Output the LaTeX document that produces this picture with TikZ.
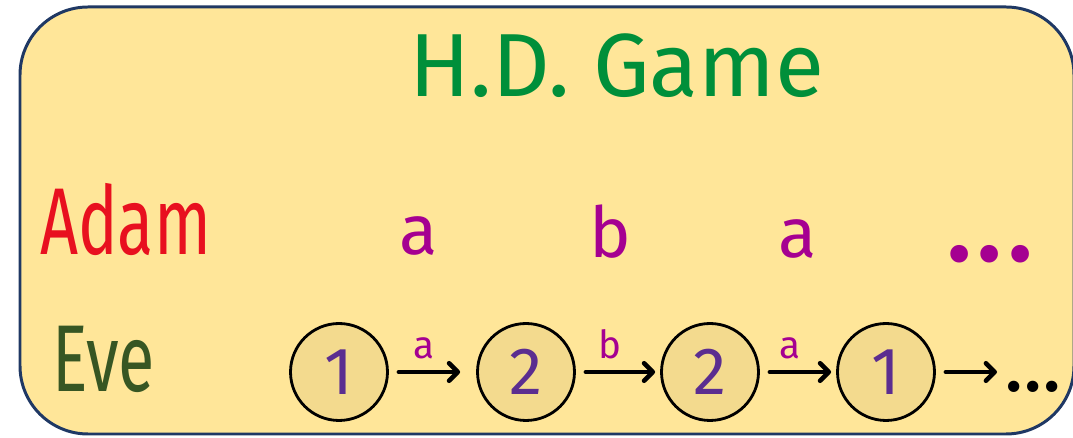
\documentclass[tikz,border=0pt]{standalone}
\usepackage{fontspec}
\setmainfont{Fira Sans}
\newfontfamily\narrowhand[FakeStretch=0.7]{Fira Sans}
\usetikzlibrary{arrows.meta}
\definecolor{gameYellow}{HTML}{FFE699}
\definecolor{gameBorder}{HTML}{1F3864}
\definecolor{stateFill}{RGB}{243,218,142}
\definecolor{titleGreen}{RGB}{0,143,58}
\definecolor{adamRed}{RGB}{232,16,31}
\definecolor{eveGreen}{HTML}{375623}
\definecolor{movePurple}{RGB}{165,0,145}
\definecolor{digitPurple}{RGB}{91,45,144}

\begin{document}
\begin{tikzpicture}[x=0.02cm, y=-0.02cm,
    state/.style={circle, draw=black, line width=1.6pt, fill=stateFill,
      minimum size=1.94cm, inner sep=0pt, text=digitPurple,
      font=\fontsize{38}{38}\selectfont},
    move/.style={anchor=base, text=movePurple, font=\fontsize{40}{40}\selectfont},
    player/.style={anchor=base west, font=\narrowhand\fontsize{54}{54}\selectfont},
    flow/.style={line width=2.6pt, line cap=round,
      -{Straight Barb[length=5pt, width=10pt, round]},
      shorten <=0.2cm, shorten >=0.1cm},
    flowlabel/.style={above=3pt, pos=0.4, text=movePurple,
      font=\fontsize{22}{22}\selectfont}
  ]
  \useasboundingbox (0,0) rectangle (1073,438);
  \draw[gameBorder, line width=1.7pt, fill=gameYellow, rounded corners=1.36cm]
    (20,7) rectangle (1074,434);

  \node[anchor=base, text=titleGreen, font=\fontsize{51}{51}\selectfont]
    (title) at (617,97) {H.D. Game};

  % players
  \node[player, text=adamRed] (adam) at (34,255) {Adam};
  \node[player, text=eveGreen] (eve) at (46,392) {Eve};

  % Adam's letters
  \node[move] (m1) at (419,255) {a};
  \node[move] (m2) at (610,258) {b};
  \node[move] (m3) at (798,258) {a};
  \node[move, font=\fontsize{72}{72}\selectfont] (mdots) at (990,262) {...};

  % Eve's run
  \node[state] (s1) at (339,372) {1};
  \node[state] (s2) at (526,372) {2};
  \node[state] (s3) at (710,372) {2};
  \node[state] (s4) at (886,372) {1};
  \node[anchor=base west, inner sep=1pt, font=\fontsize{46}{46}\selectfont]
    (sdots) at (1002,392) {...};

  \draw[flow, shorten >=0.32cm] (s1) -- node[flowlabel] {a} (s2);
  \draw[flow] (s2) -- node[flowlabel] {b} (s3);
  \draw[flow] (s3) -- node[flowlabel] {a} (s4);
  \draw[flow] (s4) -- (s4 -| sdots.west);
\end{tikzpicture}
\end{document}
